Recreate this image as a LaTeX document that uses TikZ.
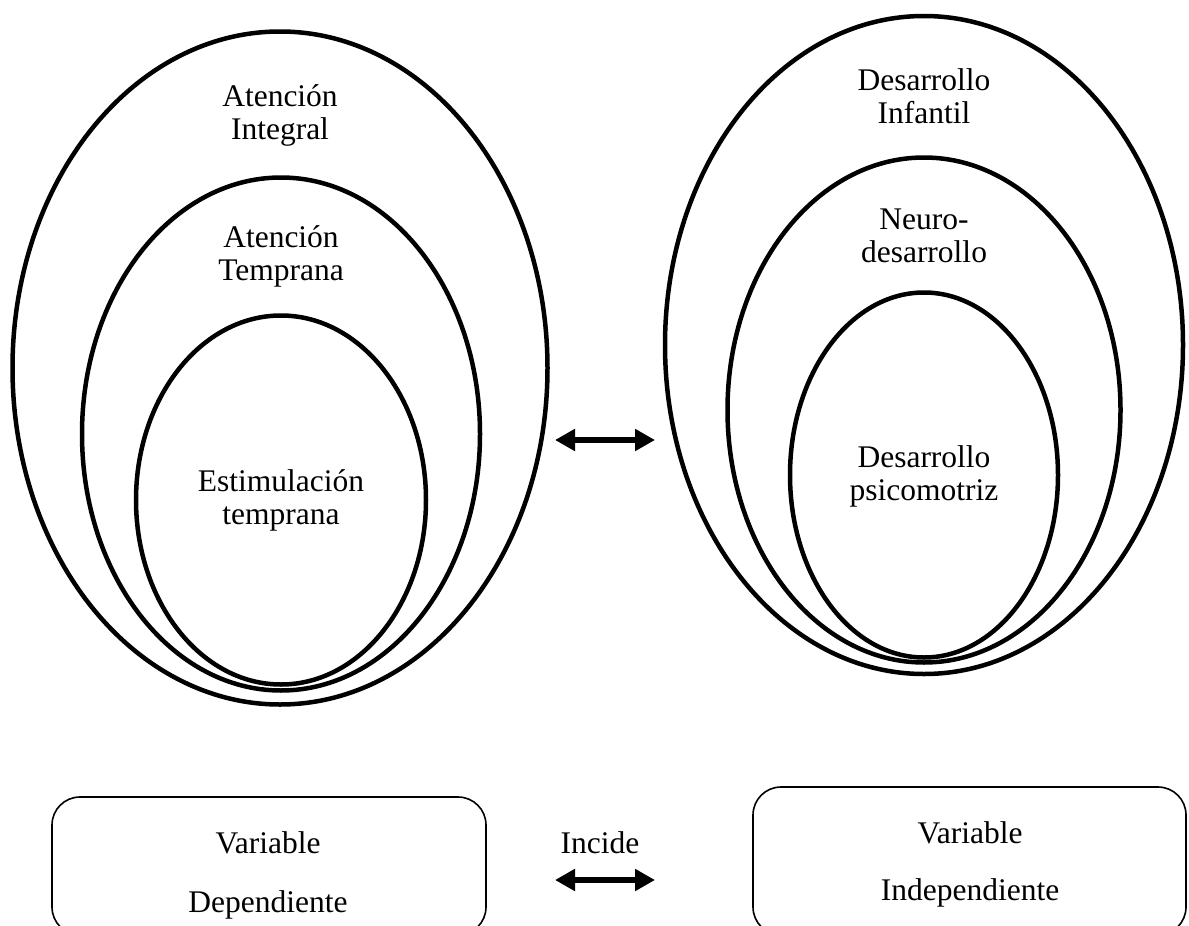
\documentclass[tikz,border=0pt]{standalone}
\usepackage{fontspec}
\setmainfont{Liberation Serif}
\usetikzlibrary{shapes.geometric,arrows.meta}
\begin{document}
\begin{tikzpicture}[x=1pt,y=-1pt,
  ring/.style={draw,line width=4.5pt,ellipse,inner sep=0pt},
  lbl/.style={align=center,font=\fontsize{31.5}{33}\selectfont,inner sep=0pt},
  varbox/.style={draw,line width=1.6pt,rounded corners=28pt},
  biarrow/.style={line width=6.5pt,{Triangle[length=20pt,width=21pt]}-{Triangle[length=20pt,width=21pt]}}]
\useasboundingbox (0,0) rectangle (1189,926);
% left ellipses
\node[ring,minimum width=535pt,minimum height=673pt] (L1) at (280,368) {};
\node[ring,minimum width=398pt,minimum height=513pt] (L2) at (281,434) {};
\node[ring,minimum width=290pt,minimum height=369pt] (L3) at (281,500) {};
% right ellipses
\node[ring,minimum width=518pt,minimum height=658pt] (R1) at (924,345) {};
\node[ring,minimum width=393pt,minimum height=505pt] (R2) at (924,410) {};
\node[ring,minimum width=268pt,minimum height=365pt] (R3) at (924,475) {};
% labels
\node[lbl] (tL1) at (280,115) {Atención\\Integral};
\node[lbl] (tL2) at (281,256) {Atención\\Temprana};
\node[lbl] (tL3) at (281,500) {Estimulación\\temprana};
\node[lbl] (tR1) at (924,96) {Desarrollo\\Infantil};
\node[lbl] (tR2) at (924,236) {Neuro-\\desarrollo};
\node[lbl] (tR3) at (924,476) {Desarrollo\\psicomotriz};
% middle arrow
\coordinate (a1) at (555,440);
\coordinate (a2) at (655,440);
\draw[biarrow] (a1) -- (a2);
% boxes
\draw[varbox] (52,797) rectangle (486,935);
\draw[varbox] (753,787) rectangle (1186,935);
\node[lbl] (vd1) at (268,843) {Variable};
\node[lbl] (vd2) at (268,905) {Dependiente};
\node[lbl] (vi1) at (970,833) {Variable};
\node[lbl] (vi2) at (970,893) {Independiente};
\node[lbl] (inc) at (600,843) {Incide};
\coordinate (b1) at (555,880);
\coordinate (b2) at (655,880);
\draw[biarrow] (b1) -- (b2);
\end{tikzpicture}
\end{document}
